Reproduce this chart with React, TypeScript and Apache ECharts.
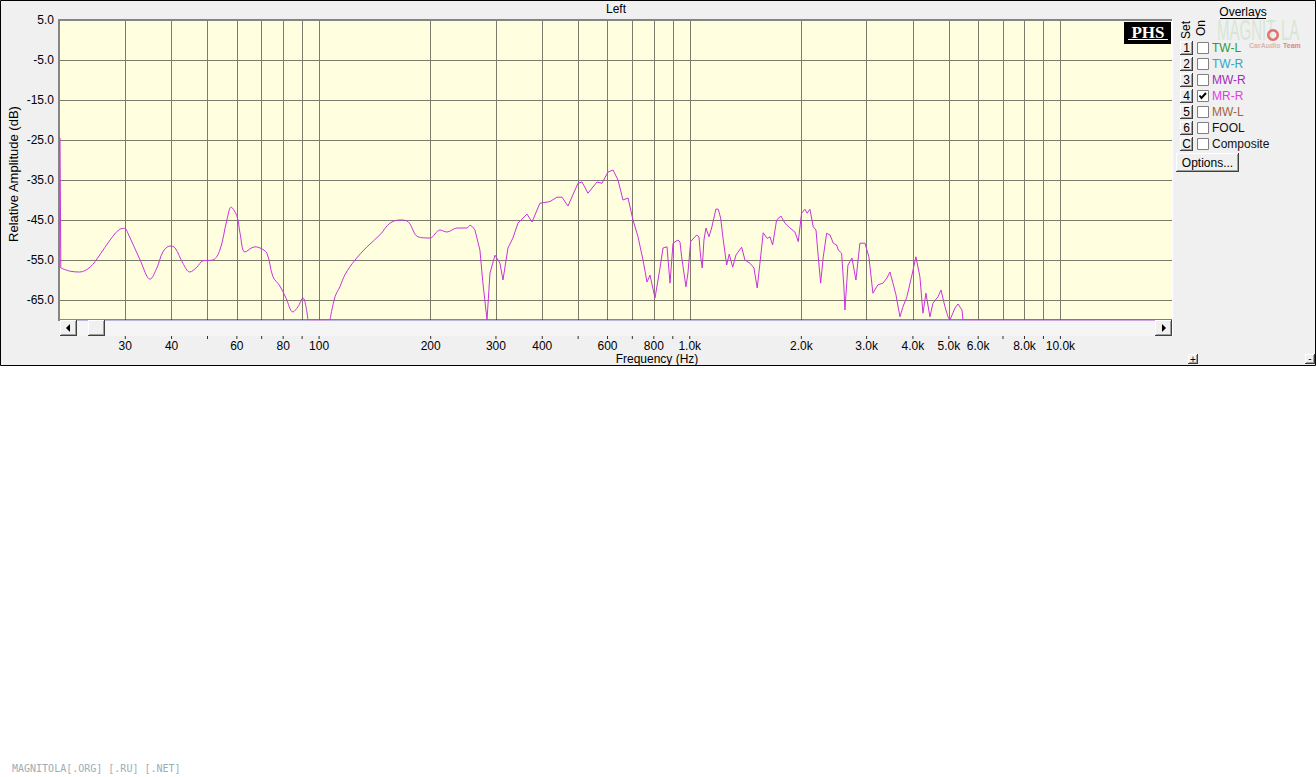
import React, { useEffect, useRef } from "react";
import * as echarts from "echarts";

// ---------- DATA ----------
const freqs = [
  20, 20.1, 21.3, 22.6, 24.1, 25.6, 27.3, 29.0, 29.9, 30.5, 32.9, 35.0, 36.5, 37.9, 39.6, 40.9, 42.9,
  44.8, 46.8, 48.6, 51.7, 54.0, 56.4, 57.9, 60.1, 61.2, 63.1, 67.1, 69.3, 72.3, 75.1, 78.4, 81.4,
  85.0, 87.7, 90.5, 92.2, 93.3, 107.0, 110.4, 113.8, 117.4, 125.0, 134.7, 146.0, 155.3, 165.3,
  173.7, 184.8, 199.1, 211.8, 221.3, 235.6, 250.6, 255.3, 263.3, 271.6, 276.7, 283.8, 289.1,
  298.2, 307.6, 313.4, 323.3, 333.4, 343.9, 363.8, 375.3, 394.3, 419.6, 438.2, 452.2, 469.4,
  499.5, 512.1, 531.4, 562.0, 579.8, 601.8, 620.9, 640.4, 660.6, 681.5, 702.9, 725.1, 748.0,
  766.8, 781.2, 805.9, 831.3, 846.9, 868.3, 884.6, 901.3, 929.7, 941.1, 950.8, 976.6, 988.8,
  1005.6, 1020, 1043.8, 1058.8, 1070, 1080.8, 1092.2, 1105.8, 1126.8, 1145.6, 1176.8, 1193.6,
  1211.6, 1231.4, 1257.8, 1278.2, 1305.6, 1332.6, 1380.4, 1409, 1453.4, 1490, 1520.6, 1546.4,
  1578.4, 1618.2, 1645.8, 1673.2, 1715.4, 1762, 1806.2, 1863.2, 1922, 1961.8, 2003.6, 2044.6,
  2073.8, 2109.6, 2153.6, 2190.6, 2222, 2254.8, 2292, 2340.6, 2390, 2439.6, 2490.6, 2515.4,
  2568.6, 2606, 2622, 2671.5, 2738.7, 2807.5, 2878, 2969, 3043, 3120, 3219, 3320, 3404, 3468,
  3534, 3600, 3690, 3760, 3854, 3975, 4076, 4178, 4257, 4337, 4446, 4530, 4674, 4762, 4882, 4974,
  5036, 5194, 5292, 5426, 5458, 20000,
];
const levels = [
  -24.5, -57, -57.8, -58, -56.8, -53.75, -50, -47.3, -47.1, -48.3, -55, -59.8, -57, -53, -51.5, -52,
  -55.8, -58, -56.8, -55.2, -55, -52.5, -45, -41.8, -44.2, -48.3, -53, -51.7, -52, -53.3, -59.2,
  -61.5, -64.5, -68, -66.7, -64.5, -66.7, -70, -70, -64.2, -61.7, -58.7, -55, -51.7, -48.7, -45.8,
  -45, -45.4, -49.2, -49.5, -47.5, -48, -47, -47, -46.3, -47.5, -52.5, -60.8, -70, -58.3, -53.8,
  -55.8, -60, -52, -49.5, -45.8, -43.5, -45.5, -40.8, -40.4, -39.3, -39.3, -41.5, -35.8, -35.5,
  -38.3, -35.5, -35.8, -33, -32.5, -35, -40, -39.5, -45, -49.2, -55, -60.5, -58.8, -64.5, -57, -52,
  -51.7, -60.8, -50.8, -50, -50.5, -54.2, -61.7, -58.25, -50.4, -49.75, -48.75, -49.2, -54.2, -57,
  -50, -47, -49.2, -47, -42.25, -42.3, -44.5, -50, -56.25, -53.5, -56.8, -53.75, -51.8, -55, -55.8,
  -57, -62, -55.8, -48.2, -49.6, -49.2, -51.25, -45, -44, -45.8, -47, -48, -50.4, -43.3, -42.3,
  -43.3, -42.3, -46.7, -47.5, -54.2, -60.8, -54.2, -48.3, -48.75, -50.8, -51.25, -52.5, -53.3, -62,
  -67.5, -56.3, -54.5, -60, -50.8, -50.8, -54.2, -63.3, -61.2, -60.8, -59.5, -58, -60.8, -63.7,
  -69.2, -66.7, -64.2, -58.8, -54.2, -59.2, -68.3, -63.3, -69.2, -65.8, -64.2, -62.5, -66.7, -69.2,
  -70, -67, -66, -67.5, -70, -70,
];
// frequency spans of the trace drawn as smooth curves (low-frequency part) or straight segments
const segmentStarts = [20, 20.1, 93.3, 107.0, 263.3];
const segmentEnds = [20.1, 93.3, 107.0, 263.3, 20000];
const segmentSmooth = [0, 0.35, 0, 0.35, 0];

const yTicks = [5, -5, -15, -25, -35, -45, -55, -65];
const yMin = -70;
const gridFreqs = [
  30, 40, 50, 60, 70, 80, 90, 100, 200, 300, 400, 500, 600, 700, 800, 900, 1000, 2000, 3000, 4000,
  5000, 6000, 7000, 8000, 9000, 10000,
];
const labelFreqs = [30, 40, 60, 80, 100, 200, 300, 400, 600, 800, 1000, 2000, 3000, 4000, 5000, 6000, 8000, 10000];
const labelTexts = ["30", "40", "60", "80", "100", "200", "300", "400", "600", "800", "1.0k", "2.0k", "3.0k", "4.0k", "5.0k", "6.0k", "8.0k", "10.0k"];
const overlaySets = ["1", "2", "3", "4", "5", "6", "C"];
const overlayNames = ["TW-L", "TW-R", "MW-R", "MR-R", "MW-L", "FOOL", "Composite"];
const overlayOn = [false, false, false, true, false, false, false];
const overlayColors = ["#2f9a3c", "#2ea8c8", "#a52cb8", "#e43ce4", "#a2653e", "#111111", "#111111"];

const FONT = "Liberation Sans, Arial, sans-serif";
const CURVE = "#c832dc";

function button(x: number, y: number, w: number, h: number, z: number): any[] {
  return [
    { type: "rect", shape: { x, y, width: w, height: h }, style: { fill: "#f0f0f0" }, z, silent: true },
    { type: "line", shape: { x1: x, y1: y + 0.5, x2: x + w - 1, y2: y + 0.5 }, style: { stroke: "#ffffff", lineWidth: 1 }, z: z + 0.1, silent: true },
    { type: "line", shape: { x1: x + 0.5, y1: y, x2: x + 0.5, y2: y + h - 1 }, style: { stroke: "#ffffff", lineWidth: 1 }, z: z + 0.1, silent: true },
    { type: "line", shape: { x1: x, y1: y + h - 0.5, x2: x + w, y2: y + h - 0.5 }, style: { stroke: "#404040", lineWidth: 1 }, z: z + 0.1, silent: true },
    { type: "line", shape: { x1: x + w - 0.5, y1: y, x2: x + w - 0.5, y2: y + h }, style: { stroke: "#404040", lineWidth: 1 }, z: z + 0.1, silent: true },
    { type: "line", shape: { x1: x + 1, y1: y + h - 1.5, x2: x + w - 1, y2: y + h - 1.5 }, style: { stroke: "#a0a0a0", lineWidth: 1 }, z: z + 0.1, silent: true },
    { type: "line", shape: { x1: x + w - 1.5, y1: y + 1, x2: x + w - 1.5, y2: y + h - 1 }, style: { stroke: "#a0a0a0", lineWidth: 1 }, z: z + 0.1, silent: true },
  ];
}

function txt(x: number, y: number, text: string, opts: any = {}): any {
  return {
    type: "text",
    x,
    y,
    rotation: opts.rotation || 0,
    z: opts.z ?? 10,
    silent: true,
    scaleX: opts.scaleX ?? 1,
    scaleY: opts.scaleY ?? 1,
    style: {
      text,
      fill: opts.fill || "#000",
      fontSize: opts.fontSize || 12,
      lineHeight: opts.lineHeight || undefined,
      fontFamily: opts.fontFamily || FONT,
      fontWeight: opts.fontWeight || "normal",
      align: opts.align || "left",
      verticalAlign: "middle",
    },
  };
}

function buildGraphics(): any[] {
  const g: any[] = [];
  // widget background + frame
  g.push({ type: "rect", shape: { x: 0.5, y: 0.5, width: 1315, height: 365 }, style: { fill: "#f0f0f0", stroke: "#000", lineWidth: 1 }, z: -2, silent: true });
  // plot background
  g.push({ type: "rect", shape: { x: 60, y: 20, width: 1112, height: 300 }, style: { fill: "#ffffe0" }, z: -1, silent: true });
  // plot borders
  g.push({ type: "line", shape: { x1: 58, y1: 20, x2: 1172, y2: 20 }, style: { stroke: "#858585", lineWidth: 2 }, z: 1, silent: true });
  g.push({ type: "line", shape: { x1: 59, y1: 19, x2: 59, y2: 321 }, style: { stroke: "#858585", lineWidth: 2 }, z: 1, silent: true });
  g.push({ type: "line", shape: { x1: 1172.5, y1: 19, x2: 1172.5, y2: 336 }, style: { stroke: "#ffffff", lineWidth: 1 }, z: 1, silent: true });
  g.push({ type: "line", shape: { x1: 60, y1: 320, x2: 1172, y2: 320 }, style: { stroke: "#0000a8", lineWidth: 1 }, z: 1, silent: true });
  // scrollbar
  g.push({ type: "rect", shape: { x: 60, y: 320.5, width: 1112, height: 15.5 }, style: { fill: "#f5f5f5" }, z: 5, silent: true });
  g.push(...button(60, 320, 17, 16, 6));
  g.push(...button(88, 320, 17, 16, 6));
  g.push(...button(1155, 320, 17, 16, 6));
  g.push({ type: "polygon", shape: { points: [[70, 324], [70, 332], [66, 328]] }, style: { fill: "#000" }, z: 7, silent: true });
  g.push({ type: "polygon", shape: { points: [[1162, 324], [1162, 332], [1166, 328]] }, style: { fill: "#000" }, z: 7, silent: true });
  // titles
  g.push(txt(616, 9, "Left", { align: "center" }));
  g.push(txt(657, 359, "Frequency (Hz)", { align: "center", lineHeight: 12 }));
  g.push(txt(13, 174, "Relative Amplitude (dB)", { align: "center", rotation: Math.PI / 2, fontSize: 13 }));
  // PHS box
  g.push({ type: "rect", shape: { x: 1124, y: 22, width: 47, height: 22 }, style: { fill: "#000" }, z: 8, silent: true });
  g.push(txt(1148, 32, "PHS", { align: "center", fill: "#fff", fontSize: 17, fontWeight: "bold", fontFamily: "Liberation Serif, DejaVu Serif, serif", z: 9 }));
  g.push({ type: "line", shape: { x1: 1128, y1: 39.5, x2: 1168, y2: 39.5 }, style: { stroke: "#fff", lineWidth: 1 }, z: 9, silent: true });
  // logo (faded watermark)
  g.push(txt(1217, 30, "MAGNIT", { fill: "#d6e6d6", fontSize: 30, scaleX: 0.5, z: 8 }));
  g.push({ type: "ring", shape: { cx: 1273, cy: 35, r: 6, r0: 3.5 }, style: { fill: "#e27272" }, z: 8, silent: true });
  g.push(txt(1281, 30, "LA", { fill: "#d6e6d6", fontSize: 30, scaleX: 0.5, z: 8 }));
  g.push(txt(1249, 45.5, "CarAudio", { fill: "#d8b4b4", fontSize: 7, fontWeight: "bold", z: 8 }));
  g.push(txt(1283, 45.5, "Team", { fill: "#e48484", fontSize: 7, fontWeight: "bold", z: 8 }));
  // overlays panel
  g.push(txt(1243, 12, "Overlays", { align: "center" }));
  g.push({ type: "line", shape: { x1: 1220, y1: 18.5, x2: 1266, y2: 18.5 }, style: { stroke: "#000", lineWidth: 1 }, z: 10, silent: true });
  g.push(txt(1186, 30, "Set", { align: "center", rotation: Math.PI / 2 }));
  g.push(txt(1200.5, 28, "On", { align: "center", rotation: Math.PI / 2 }));
  overlaySets.forEach((s, i) => {
    const cy = 48 + i * 16;
    g.push(...button(1180, cy - 7, 13, 14, 6));
    g.push(txt(1186.5, cy, s, { align: "center" }));
    g.push({ type: "rect", shape: { x: 1197.5, y: cy - 5.5, width: 11, height: 11 }, style: { fill: "#fff", stroke: "#808080", lineWidth: 1 }, z: 7, silent: true });
    if (overlayOn[i]) {
      g.push({ type: "polyline", shape: { points: [[1199.5, cy - 0.5], [1201.5, cy + 2], [1206, cy - 3]] }, style: { stroke: "#000", lineWidth: 2, fill: "none" }, z: 8, silent: true });
    }
    g.push(txt(1212, cy, overlayNames[i], { fill: overlayColors[i] }));
  });
  g.push(...button(1176, 153, 63, 19, 6));
  g.push(txt(1207.5, 162.5, "Options...", { align: "center" }));
  // +/- buttons
  g.push(...button(1188, 354, 10, 10, 6));
  g.push(txt(1193, 359, "+", { align: "center", fontSize: 10 }));
  g.push(...button(1305, 354, 10, 10, 6));
  g.push(txt(1310, 358.5, "-", { align: "center", fontSize: 10 }));
  // footer
  g.push(txt(12, 768, "MAGNITOLA[.ORG] [.RU] [.NET]", { fill: "#9cacb8", fontSize: 10, fontFamily: "DejaVu Sans Mono, monospace" }));
  return g;
}

export default function App() {
  const ref = useRef<HTMLDivElement>(null);
  useEffect(() => {
    if (!ref.current) return;
    const chart = echarts.init(ref.current, undefined, { renderer: "svg" });
    const lg = (f: number) => Math.log10(f);
    const series: any[] = segmentStarts.map((start, s) => ({
      type: "line",
      data: freqs
        .map((f, i) => [f, levels[i]])
        .filter(([f]) => f >= start - 1e-9 && f <= segmentEnds[s] + 1e-9)
        .map(([f, v]) => [lg(f), v]),
      showSymbol: false,
      symbol: "none",
      smooth: segmentSmooth[s],
      clip: false,
      silent: true,
      z: 3,
      lineStyle: { color: CURVE, width: 1 },
    }));
    // small tick marks under the scrollbar, placed through the x scale
    series.push({
      type: "scatter",
      data: gridFreqs.map((f) => [lg(f), yMin]),
      symbol: "rect",
      symbolSize: [1, 3],
      symbolOffset: [0, 17.5],
      clip: false,
      silent: true,
      z: 10,
      itemStyle: { color: "#000" },
    });
    chart.setOption({
      animation: false,
      backgroundColor: "#ffffff",
      grid: { left: 60, top: 20, width: 1112, height: 300, show: false },
      xAxis: {
        type: "value",
        min: lg(20),
        max: lg(20000),
        offset: 16,
        axisLine: { show: false },
        axisTick: { show: false, customValues: gridFreqs.map(lg) },
        axisLabel: {
          customValues: labelFreqs.map(lg),
          margin: 4,
          fontSize: 12,
          lineHeight: 12,
          fontFamily: FONT,
          color: "#000",
          hideOverlap: false,
          formatter: (v: number) => {
            const i = labelFreqs.findIndex((f) => Math.abs(lg(f) - v) < 1e-6);
            return i >= 0 ? labelTexts[i] : "";
          },
        },
        splitLine: { show: true, lineStyle: { color: "#7c7c6c", width: 1 } },
      },
      yAxis: {
        type: "value",
        min: yMin,
        max: 5,
        axisLine: { show: false },
        axisTick: { show: false, customValues: yTicks },
        axisLabel: {
          customValues: yTicks,
          margin: 6,
          fontSize: 12,
          fontFamily: FONT,
          color: "#000",
          formatter: (v: number) => v.toFixed(1),
        },
        splitLine: { show: true, lineStyle: { color: "#7c7c6c", width: 1 } },
      },
      graphic: { elements: buildGraphics() },
      series,
    });
    return () => chart.dispose();
  }, []);
  return (
    <div
      ref={ref}
      style={{ position: "absolute", left: 0, top: 0, width: 1316, height: 777, background: "#fff" }}
    />
  );
}
